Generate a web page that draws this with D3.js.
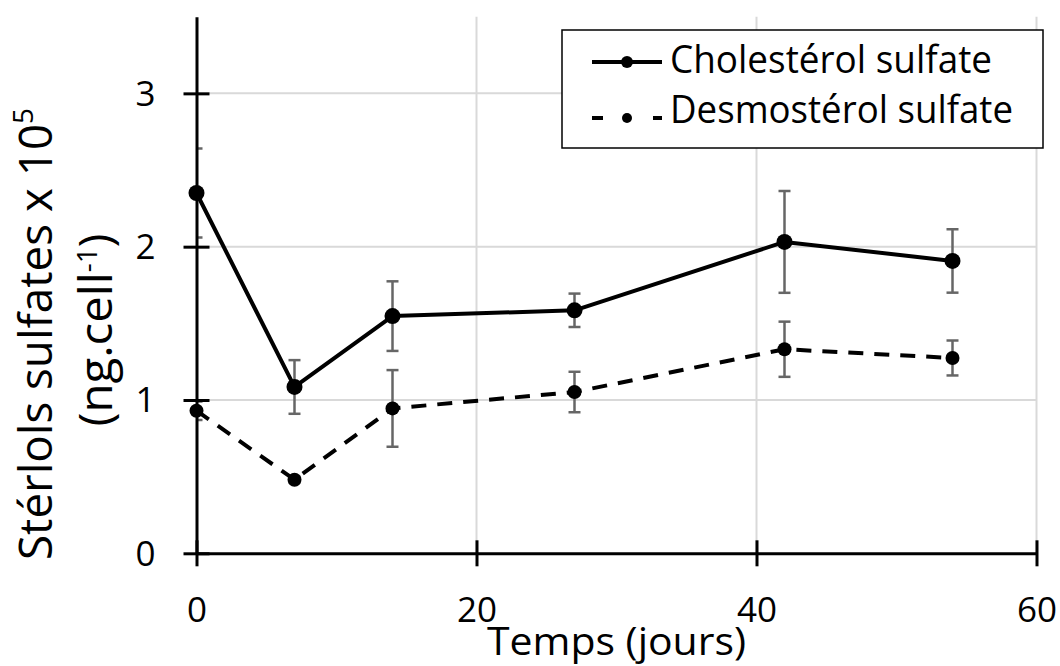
<!DOCTYPE html>
<html>
<head>
<meta charset="utf-8">
<script src="https://cdn.jsdelivr.net/npm/d3@7"></script>
<style>
  html, body { margin: 0; padding: 0; background: #fff; }
  svg { display: block; }
  text { font-family: "Open Sans", "DejaVu Sans", sans-serif; fill: #000; }
</style>
</head>
<body>
<svg id="chart" width="1060" height="666"></svg>
<script>
// Sterol sulfates per cell over time (mean ± SD)
const days = [0, 7, 14, 27, 42, 54];
const cholesterol = [2.35, 1.085, 1.547, 1.585, 2.031, 1.907];
const cholesterolSd = [0.29, 0.175, 0.227, 0.109, 0.332, 0.207];
const desmosterol = [0.93, 0.48, 0.945, 1.052, 1.331, 1.274];
const desmosterolSd = [0.06, 0.02, 0.25, 0.132, 0.18, 0.114];
const seriesNames = ["Cholestérol sulfate", "Desmostérol sulfate"];
const xTicks = [0, 20, 40, 60];
const yTicks = [0, 1, 2, 3];

const svg = d3.select("#chart");
const x = d3.scaleLinear().domain([0, 60]).range([196.5, 1036.5]);
const y = d3.scaleLinear().domain([0, 3.5]).range([553.3, 16.7]);

const series = [
  { name: seriesNames[0], values: cholesterol, sd: cholesterolSd, dash: null, r: 8 },
  { name: seriesNames[1], values: desmosterol, sd: desmosterolSd, dash: "15,11", r: 7 }
];

// plot-area clip for the error bars
svg.append("clipPath").attr("id", "plotClip")
  .append("rect")
  .attr("x", x(0)).attr("y", y(3.5))
  .attr("width", x(60) - x(0)).attr("height", y(0) - y(3.5));

// gridlines
const grid = svg.append("g").attr("stroke", "#d9d9d9").attr("stroke-width", 2);
grid.selectAll("line.h").data(yTicks.filter(d => d > 0)).join("line")
  .attr("x1", x(0)).attr("x2", x(60))
  .attr("y1", d => y(d)).attr("y2", d => y(d));
grid.selectAll("line.v").data(xTicks.filter(d => d > 0)).join("line")
  .attr("y1", y(0)).attr("y2", y(3.5))
  .attr("x1", d => x(d)).attr("x2", d => x(d));

// error bars
const errG = svg.append("g").attr("clip-path", "url(#plotClip)")
  .attr("stroke", "#666").attr("stroke-width", 2.5).attr("fill", "none");
series.forEach(s => {
  days.forEach((d, i) => {
    const cx = x(d), hi = y(s.values[i] + s.sd[i]), lo = y(s.values[i] - s.sd[i]);
    errG.append("line").attr("x1", cx).attr("x2", cx).attr("y1", hi).attr("y2", lo);
    errG.append("line").attr("x1", cx - 6).attr("x2", cx + 6).attr("y1", hi).attr("y2", hi);
    errG.append("line").attr("x1", cx - 6).attr("x2", cx + 6).attr("y1", lo).attr("y2", lo);
  });
});

// axes
const xAxis = svg.append("g")
  .attr("transform", `translate(0,${y(0)})`)
  .call(d3.axisBottom(x).tickValues(xTicks).tickFormat(d3.format("d"))
    .tickSize(13).tickSizeOuter(0).tickPadding(0));
const yAxis = svg.append("g")
  .attr("transform", `translate(${x(0)},0)`)
  .call(d3.axisLeft(y).tickValues(yTicks).tickFormat(d3.format("d"))
    .tickSize(13).tickSizeOuter(0).tickPadding(0));

[xAxis, yAxis].forEach(a => {
  a.select(".domain").attr("stroke", "#000").attr("stroke-width", 3);
  a.selectAll(".tick line").attr("stroke", "#000").attr("stroke-width", 3);
});
xAxis.selectAll(".tick line").attr("y1", -13).attr("y2", 13);
yAxis.selectAll(".tick line").attr("x1", -13).attr("x2", 13);
xAxis.selectAll(".tick text")
  .attr("y", 69).attr("dy", null)
  .attr("font-size", 35).attr("fill", "#000");
yAxis.selectAll(".tick text")
  .attr("x", -41).attr("dy", 12)
  .attr("font-size", 35).attr("fill", "#000");

// series lines and markers
const line = d3.line().x((d, i) => x(days[i])).y(d => y(d));
series.forEach(s => {
  svg.append("path")
    .datum(s.values)
    .attr("d", line)
    .attr("fill", "none")
    .attr("stroke", "#000")
    .attr("stroke-width", 4)
    .attr("stroke-linejoin", "round")
    .attr("stroke-dasharray", s.dash);
  svg.append("g").selectAll("circle").data(s.values).join("circle")
    .attr("cx", (d, i) => x(days[i]))
    .attr("cy", d => y(d))
    .attr("r", s.r)
    .attr("fill", "#000");
});

// axis titles
svg.append("text")
  .attr("x", (x(0) + x(60)) / 2).attr("y", 655)
  .attr("text-anchor", "middle")
  .attr("font-size", 38)
  .attr("textLength", 259).attr("lengthAdjust", "spacingAndGlyphs")
  .text("Temps (jours)");

const yt1 = svg.append("text")
  .attr("transform", "translate(52,334) rotate(-90)")
  .attr("text-anchor", "middle")
  .attr("font-size", 46)
  .attr("textLength", 452).attr("lengthAdjust", "spacingAndGlyphs");
yt1.append("tspan").text("Stérlols sulfates x 10");
yt1.append("tspan").attr("font-size", 28).attr("dy", -19).text("5");

const yt2 = svg.append("text")
  .attr("transform", "translate(112,330) rotate(-90)")
  .attr("text-anchor", "middle")
  .attr("font-size", 46)
  .attr("textLength", 193).attr("lengthAdjust", "spacingAndGlyphs");
yt2.append("tspan").text("(ng.cell");
yt2.append("tspan").attr("font-size", 27).attr("dy", -15).text("-1");
yt2.append("tspan").attr("dy", 15).text(")");

// legend
const lg = svg.append("g");
lg.append("rect")
  .attr("x", 562).attr("y", 30).attr("width", 481).attr("height", 118)
  .attr("fill", "#fff").attr("stroke", "#000").attr("stroke-width", 1.5);
const legendRows = [
  { s: series[0], y: 62, base: 73, len: 322 },
  { s: series[1], y: 118, base: 123, len: 343 }
];
legendRows.forEach(row => {
  lg.append("line")
    .attr("x1", 592).attr("x2", 662).attr("y1", row.y).attr("y2", row.y)
    .attr("stroke", "#000").attr("stroke-width", 4)
    .attr("stroke-dasharray", row.s.dash ? "11,25,0,25" : null);
  lg.append("circle").attr("cx", 627).attr("cy", row.y).attr("r", row.s.r - 2).attr("fill", "#000");
  lg.append("text")
    .attr("x", 670).attr("y", row.base)
    .attr("font-size", 38)
    .attr("textLength", row.len).attr("lengthAdjust", "spacingAndGlyphs")
    .text(row.s.name);
});
</script>
</body>
</html>
